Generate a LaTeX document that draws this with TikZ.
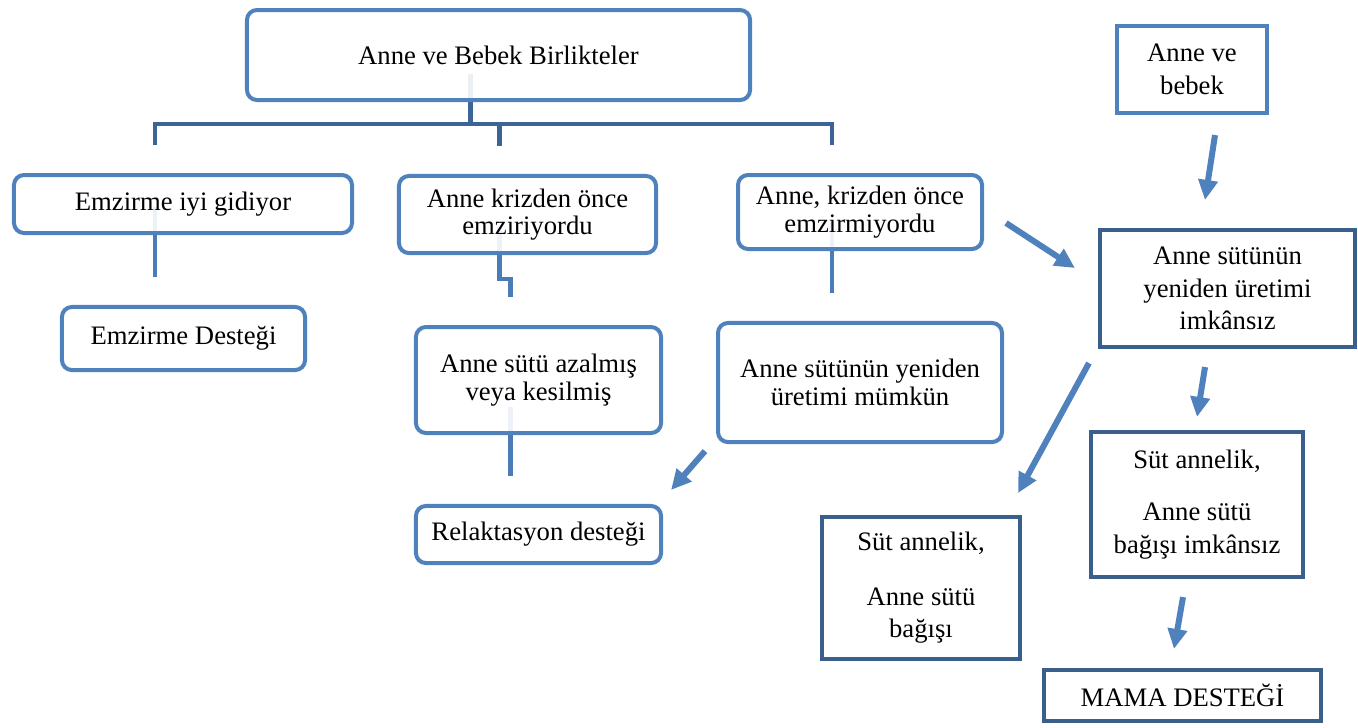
\documentclass[tikz,border=0pt]{standalone}
\usepackage{fontspec}
\setmainfont{Liberation Serif}
\usetikzlibrary{arrows.meta}
\pgfdeclarelayer{background}
\pgfsetlayers{background,main}
\definecolor{boxblue}{HTML}{4F81BD}
\definecolor{darkblue}{HTML}{3A5F8D}
\definecolor{treeblue}{HTML}{3C6496}
\definecolor{branchblue}{HTML}{4A7DB8}
\tikzset{
  rbox/.style={draw=boxblue,line width=1.8pt,rounded corners=4.5pt,fill=white,fill opacity=0.9,text opacity=1,align=center,inner sep=2pt,font=\fontsize{12}{12.4}\selectfont},
  sbox/.style={draw=darkblue,line width=1.8pt,fill=white,align=center,inner sep=2pt,font=\fontsize{12}{14.6}\selectfont},
  tree/.style={draw=treeblue,line width=2pt},
  branch/.style={draw=branchblue,line width=2pt},
  arr/.style={draw=boxblue,line width=2.7pt,-{Triangle[length=9pt,width=8.5pt]}}
}
\begin{document}
\begin{tikzpicture}[x=0.45pt,y=-0.45pt]
            \useasboundingbox (0,0) rectangle (1358,727);
            % Hierarchy boxes
            \node (top) [rbox,minimum width=226.4pt,minimum height=40.5pt] at (498.5,55) {Anne ve Bebek Birlikteler};
            \node (emz1) [rbox,minimum width=152.1pt,minimum height=26.1pt] at (183,204) {Emzirme iyi gidiyor};
            \node (kriz) [rbox,minimum width=115.7pt,minimum height=34.7pt] at (527.5,214.5) {Anne krizden önce\\emziriyordu};
            \node (em3) [rbox,minimum width=109.8pt,minimum height=33.3pt] at (860,212) {Anne, krizden önce\\emzirmiyordu};
            \node (emdes) [rbox,minimum width=109.4pt,minimum height=28.4pt] at (183.5,338.5) {Emzirme Desteği};
            \node (azal) [rbox,minimum width=110.3pt,minimum height=47.7pt] at (538.5,380) {Anne sütü azalmış\\veya kesilmiş};
            \node (mumkun) [rbox,minimum width=127.8pt,minimum height=53.6pt] at (860,382.5) {Anne sütünün yeniden\\üretimi mümkün};
            \node (relak) [rbox,minimum width=110.3pt,minimum height=25.7pt] at (538.5,534.5) {Relaktasyon desteği};
            % Right hand boxes
            \node (beb) [sbox,draw=boxblue,minimum width=67.5pt,minimum height=39.2pt] at (1192,69.5) {Anne ve\\bebek};
            \node (imk) [sbox,minimum width=114.8pt,minimum height=52.7pt] at (1227.5,288.5) {Anne sütünün\\yeniden üretimi\\imkânsız};
            \node (bag) [sbox,minimum width=89.1pt,minimum height=63.9pt] at (921,588) {Süt annelik,\\[10pt]Anne sütü\\bağışı};
            \node (yok) [sbox,minimum width=95.4pt,minimum height=65.3pt] at (1197,504.5) {Süt annelik,\\[9pt]Anne sütü\\bağışı imkânsız};
            \node (mama) [sbox,minimum width=124.7pt,minimum height=23pt] at (1182.5,695.5) {MAMA DESTEĞİ};
            % Hierarchy connectors, behind the boxes and offset as in the original
            \begin{pgfonlayer}{background}
            \begin{scope}[transform canvas={shift={(-28,-28)}}]
            \draw[tree](top.south)--++(0,50)coordinate(hub);
            \draw[tree](emz1.north)--(emz1.north|-hub)--(em3.north|-hub)--(em3.north);
            \draw[tree](kriz.north|-hub)--(kriz.north);
            \draw[branch](emz1.south)--(emz1.south|-emdes.north);
            \draw[branch](kriz.south)--++(0,52)-|(azal.north);
            \draw[branch](em3.south)--(em3.south|-mumkun.north);
            \draw[branch](azal.south)--(azal.south|-relak.north);
            \end{scope}
            \end{pgfonlayer}
            % Arrows
            \draw[arr]([shift={(23,20)}]beb.south)--([shift={(-22.5,-28)}]imk.north);
            \draw[arr]([shift={(22,11)}]em3.east)--([shift={(-23,-20.5)}]imk.west);
            \draw[arr]([shift={(-9,14)}]imk.south west)--([shift={(-4,-22)}]bag.north east);
            \draw[arr]([shift={(-22.5,18)}]imk.south)--([shift={(0,-13)}]yok.north);
            \draw[arr]([shift={(-14,18)}]yok.south)--([shift={(-8.5,-19)}]mama.north);
            \draw[arr]([shift={(-11,7)}]mumkun.south west)--([shift={(8,-14)}]relak.north east);
\end{tikzpicture}
\end{document}
